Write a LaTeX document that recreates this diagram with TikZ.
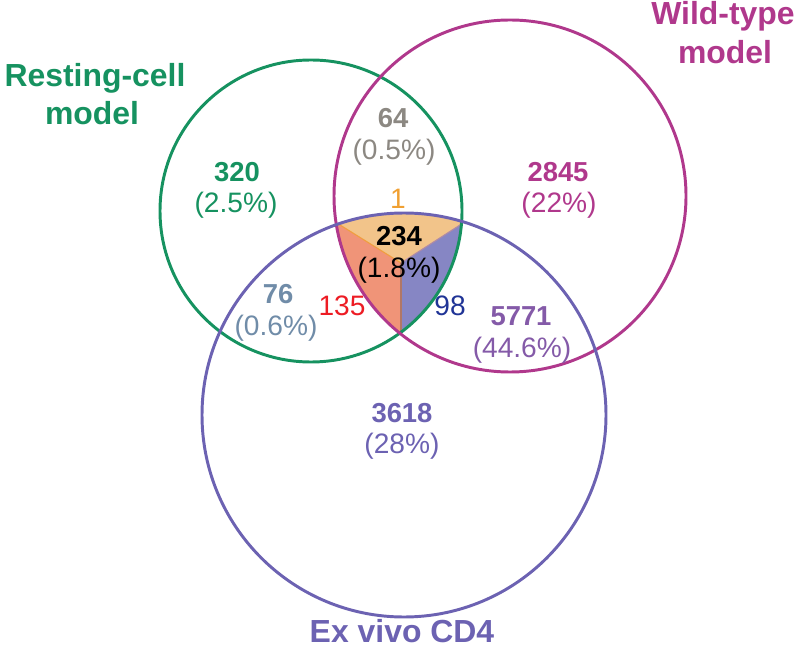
\documentclass[tikz,border=0pt]{standalone}
\usepackage{fontspec}
\setmainfont{Liberation Sans}
\usetikzlibrary{positioning}

\definecolor{restgreen}{RGB}{22,146,96}
\definecolor{wtmagenta}{RGB}{176,56,140}
\definecolor{exvpurple}{RGB}{108,98,178}
\definecolor{numpurple}{RGB}{132,90,168}
\definecolor{numgray}{RGB}{140,136,130}
\definecolor{numslate}{RGB}{112,140,168}
\definecolor{numred}{RGB}{237,28,36}
\definecolor{numblue}{RGB}{32,52,150}
\definecolor{numorange}{RGB}{240,160,50}
\definecolor{toporange}{RGB}{242,196,138}
\definecolor{leftsalmon}{RGB}{240,148,120}
\definecolor{rightlav}{RGB}{134,134,196}

\begin{document}
\begin{tikzpicture}[x=0.025cm,y=-0.025cm,
  ring/.style={line width=2.1pt},
  cnt/.style={anchor=base,font=\fontsize{19.5}{22}\selectfont\bfseries},
  pct/.style={anchor=base,font=\fontsize{20}{22}\selectfont},
  setlabel/.style={anchor=base,font=\fontsize{22.7}{28}\selectfont\bfseries}]
  \useasboundingbox (0,0) rectangle (800,648);

  % centre region, split in three
  \begin{scope}
    \clip (404,415) circle (202);
    \clip (510,196) circle (176);
    \clip (311,211) circle (151);
    \coordinate (mid) at (401,263);
    \coordinate (farTL) at (218,149);
    \coordinate (farTR) at (578,149);
    \coordinate (farB) at (401,400);
    \fill[toporange] (mid) -- (farTL) -- (218,100) -- (590,100) -- (farTR) -- cycle;
    \fill[leftsalmon] (mid) -- (farTL) -- (218,400) -- (farB) -- cycle;
    \fill[rightlav] (mid) -- (farTR) -- (590,400) -- (farB) -- cycle;
    \draw[line width=0.8pt,numorange!80!leftsalmon] (mid) -- (farTL);
    \draw[line width=0.8pt,leftsalmon!70!black!90] (mid) -- (farB);
    \draw[line width=0.8pt,rightlav!60!leftsalmon] (mid) -- (farTR);
  \end{scope}

  \draw[ring,restgreen] (311,211) circle (151);
  \draw[ring,wtmagenta] (510,196) circle (176);
  \draw[ring,exvpurple] (404,415) circle (202);

  % set names
  \node[setlabel,restgreen] (restA) at (95,87) {Resting-cell};
  \node[setlabel,restgreen] (restB) at (92,125) {model};
  \node[setlabel,wtmagenta] (wtA) at (723,25) {Wild-type};
  \node[setlabel,wtmagenta] (wtB) at (725,64) {model};
  \node[setlabel,exvpurple] (exv) at (402,642) {Ex vivo CD4};

  % counts
  \node[cnt,restgreen] (n320) at (237,182) {320};
  \node[pct,restgreen] (p320) at (236,213) {(2.5\%)};
  \node[cnt,wtmagenta] (n2845) at (558,182) {2845};
  \node[pct,wtmagenta] (p2845) at (559,213) {(22\%)};
  \node[cnt,numgray] (n64) at (393,128) {64};
  \node[pct,numgray] (p64) at (394,160) {(0.5\%)};
  \node[pct,numorange] (n1) at (398,209) {1};
  \node[cnt,black] (n234) at (399,246) {234};
  \node[pct,black] (p234) at (399,278) {(1.8\%)};
  \node[pct,numred] (n135) at (342,315) {135};
  \node[pct,numblue] (n98) at (450,315) {98};
  \node[cnt,numslate] (n76) at (278,303) {76};
  \node[pct,numslate] (p76) at (276,335) {(0.6\%)};
  \node[cnt,numpurple] (n5771) at (521,325) {5771};
  \node[pct,numpurple] (p5771) at (522,357) {(44.6\%)};
  \node[cnt,exvpurple] (n3618) at (402,422) {3618};
  \node[pct,exvpurple] (p3618) at (402,453) {(28\%)};
\end{tikzpicture}
\end{document}
